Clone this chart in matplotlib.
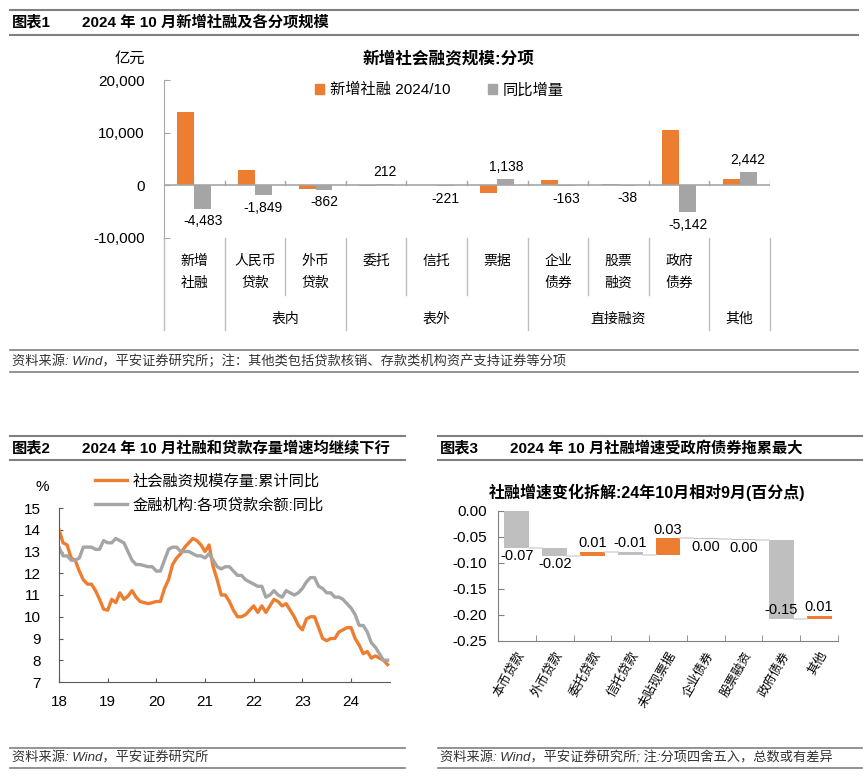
import matplotlib
matplotlib.use("Agg")
import matplotlib.pyplot as plt
from matplotlib.patches import Patch
from matplotlib.lines import Line2D
import numpy as np

plt.rcParams['font.family'] = ['Liberation Sans', 'Noto Sans CJK SC']
plt.rcParams['axes.unicode_minus'] = False

W, H = 866, 779
ORANGE = '#ED7D31'
GRAY = '#A5A5A5'
LGRAY = '#BFBFBF'
RULE = '#808080'

# ---- chart 1 data ----
# last category (其他) is only named at group level in the original
c1_cats = ['新增\n社融', '人民币\n贷款', '外币\n贷款', '委托', '信托', '票据',
           '企业\n债券', '股票\n融资', '政府\n债券', '']
c1_new = [14000, 2967, -700, -190, 126, -1380, 1025, 250, 10500, 1270]
c1_yoy = [-4483, -1849, -862, 212, -221, 1138, -163, -38, -5142, 2442]
c1_groups = [('表内', 1, 2), ('表外', 3, 5), ('直接融资', 6, 8), ('其他', 9, 9)]
c1_yticks = [-10000, 0, 10000, 20000]

# ---- chart 2 data (monthly, Jan 2018 - Oct 2024) ----
tsf_growth = [14.0, 13.4, 13.3, 12.7, 12.6, 12.1, 11.7, 11.5, 11.5, 11.2, 10.8, 10.35,
              10.3, 10.8, 10.65, 11.1, 10.8, 10.95, 11.2, 10.9, 10.7, 10.65, 10.6, 10.65,
              10.7, 10.7, 11.3, 11.7, 12.4, 12.7, 12.9, 13.2, 13.4, 13.6, 13.5, 13.3,
              13.0, 13.3, 12.3, 11.7, 11.0, 11.0, 10.7, 10.3, 10.0, 10.0, 10.1, 10.3,
              10.5, 10.2, 10.5, 10.2, 10.5, 10.8, 10.7, 10.5, 10.6, 10.3, 10.0, 9.6,
              9.4, 9.9, 10.0, 10.0, 9.5, 9.0, 8.9, 9.0, 9.0, 9.3, 9.4, 9.5,
              9.5, 9.0, 8.7, 8.3, 8.4, 8.1, 8.2, 8.1, 8.0, 7.8]
loan_growth = [13.2, 12.8, 12.8, 12.6, 12.6, 12.7, 13.2, 13.2, 13.2, 13.1, 13.1, 13.5,
               13.4, 13.4, 13.6, 13.5, 13.4, 13.0, 12.6, 12.4, 12.4, 12.35, 12.3, 12.3,
               12.1, 12.1, 12.6, 13.1, 13.2, 13.2, 13.0, 13.0, 13.0, 12.9, 12.8, 12.8,
               12.7, 12.9, 12.6, 12.3, 12.2, 12.3, 12.3, 12.1, 11.9, 11.9, 11.7, 11.6,
               11.5, 11.4, 11.4, 10.9, 11.0, 11.2, 11.0, 10.9, 11.2, 11.1, 11.0, 11.1,
               11.3, 11.6, 11.8, 11.8, 11.4, 11.3, 11.1, 11.1, 10.9, 10.9, 10.8, 10.6,
               10.4, 10.1, 9.6, 9.6, 9.3, 8.8, 8.6, 8.3, 8.0, 8.0]
year_labels = ['18', '19', '20', '21', '22', '23', '24']
c2_yticks = [7, 8, 9, 10, 11, 12, 13, 14, 15]

# ---- chart 3 data ----
c3_cats = ['本币贷款', '外币贷款', '委托贷款', '信托贷款', '未贴现票据',
           '企业债券', '股票融资', '政府债券', '其他']
c3_vals = [-0.071, -0.015, 0.008, -0.006, 0.032, -0.002, -0.001, -0.152, 0.006]
c3_labels = ['-0.07', '-0.02', '0.01', '-0.01', '0.03', '0.00', '0.00', '-0.15', '0.01']
c3_yticks = [0.0, -0.05, -0.10, -0.15, -0.20, -0.25]


def fx(x):
    return x / W


def fy(y):
    return 1 - y / H


fig = plt.figure(figsize=(W / 100, H / 100), dpi=100)


def rule(x0, x1, y, lw=1.5):
    fig.add_artist(Line2D([fx(x0), fx(x1)], [fy(y), fy(y)], color=RULE, lw=lw))


def header(x0, x1, ytop, ybot, tag, title, tx):
    rule(x0, x1, ytop)
    rule(x0, x1, ybot)
    yc = fy((ytop + ybot) / 2)
    fig.text(fx(x0 + 2), yc, tag, fontsize=11, fontweight='bold', va='center')
    fig.text(fx(tx), yc, title, fontsize=11, fontweight='bold', va='center')


def footer(x0, x1, ytop, ybot, txt):
    rule(x0, x1, ytop, lw=1.2)
    rule(x0, x1, ybot, lw=1.2)
    fig.text(fx(x0 + 2), fy((ytop + ybot) / 2), txt, fontsize=9.5, style='italic',
             color='#333333', va='center')


# =================== chart 1 ===================
header(10, 858, 10, 35, '图表1', '2024 年 10 月新增社融及各分项规模', 82)
footer(10, 858, 350, 372, '资料来源: Wind，平安证券研究所；注：其他类包括贷款核销、存款类机构资产支持证券等分项')

ax1 = fig.add_axes([fx(164), fy(238), 606 / W, 158 / H])
x = np.arange(len(c1_cats))
bw = 0.28
ax1.bar(x - bw / 2, c1_new, bw, color=ORANGE, label='新增社融 2024/10')
ax1.bar(x + bw / 2, c1_yoy, bw, color=GRAY, label='同比增量')
ax1.set_xlim(-0.5, len(c1_cats) - 0.5)
ax1.set_ylim(-10000, 20000)
ax1.axhline(0, color='#A6A6A6', lw=1.2, zorder=3)
for b in np.arange(0.5, len(c1_cats), 1.0):
    ax1.plot([b, b], [0, 850], color='#A6A6A6', lw=1, zorder=3)
for xi, v in zip(x, c1_yoy):
    ax1.annotate(f'{v:,}', (xi + bw / 2, v), xytext=(0, 4 if v > 0 else -4),
                 textcoords='offset points', ha='center',
                 va='bottom' if v > 0 else 'top', fontsize=10)
for s in ['top', 'right', 'bottom']:
    ax1.spines[s].set_visible(False)
ax1.spines['left'].set_color('#A6A6A6')
ax1.set_yticks(c1_yticks)
ax1.set_yticklabels([f'{t:,}' for t in c1_yticks], fontsize=11)
ax1.tick_params(axis='y', direction='in', length=4, color='#A6A6A6', pad=14)
ax1.set_xticks([])

tr = ax1.get_xaxis_transform()
group_edges = [-0.5, 0.5, 2.5, 5.5, 8.5, 9.5]
inner_edges = [1.5, 3.5, 4.5, 6.5, 7.5]
for e in group_edges:
    ax1.plot([e, e], [0, -92 / 158], transform=tr, color=LGRAY, lw=1, clip_on=False)
for e in inner_edges:
    ax1.plot([e, e], [0, -57 / 158], transform=tr, color=LGRAY, lw=1, clip_on=False)
for xi, lab in zip(x, c1_cats):
    for k, line in enumerate(lab.split('\n')):
        ax1.text(xi, -(261 + 22 * k - 238) / 158, line, transform=tr,
                 ha='center', va='center', fontsize=10)
for name, a, b in c1_groups:
    ax1.text((a + b) / 2, -(319 - 238) / 158, name, transform=tr,
             ha='center', va='center', fontsize=10)

fig.text(fx(130), fy(59), '亿元', fontsize=11, ha='center', va='center')
fig.text(fx(449), fy(59), '新增社会融资规模:分项', fontsize=12, fontweight='bold',
         ha='center', va='center')
fig.legend(handles=[Patch(color=ORANGE, label='新增社融 2024/10'),
                    Patch(color=GRAY, label='同比增量')],
           loc='center left', bbox_to_anchor=(fx(315), fy(90)), ncol=2,
           frameon=False, fontsize=11, handlelength=0.6, handleheight=0.6,
           handletextpad=0.35, columnspacing=2.5, borderpad=0, borderaxespad=0)

# =================== chart 2 ===================
header(10, 405, 436, 460, '图表2', '2024 年 10 月社融和贷款存量增速均继续下行', 82)
footer(10, 405, 748, 768, '资料来源: Wind，平安证券研究所')

ax2 = fig.add_axes([fx(59), fy(682), 331 / W, 174 / H])
m = np.arange(len(tsf_growth))
l1, = ax2.plot(m, tsf_growth, color=ORANGE, lw=2.4, label='社会融资规模存量:累计同比')
l2, = ax2.plot(m, loan_growth, color=GRAY, lw=2.4, label='金融机构:各项贷款余额:同比')
ax2.set_xlim(0, 81.6)
ax2.set_ylim(7, 15)
ax2.set_xticks(np.arange(0, 12 * len(year_labels), 12))
ax2.set_xticklabels(year_labels, fontsize=11)
ax2.set_yticks(c2_yticks)
ax2.set_yticklabels([str(t) for t in c2_yticks], fontsize=11)
ax2.tick_params(axis='y', direction='in', length=3, pad=13, color='#595959')
ax2.tick_params(axis='x', direction='in', length=3, pad=9, color='#595959')
for s in ['top', 'right']:
    ax2.spines[s].set_visible(False)
for s in ['left', 'bottom']:
    ax2.spines[s].set_color('#595959')
fig.text(fx(42), fy(487), '%', fontsize=11, ha='center', va='center')
fig.legend(handles=[l1, l2], loc='upper left', bbox_to_anchor=(fx(95), fy(474)),
           frameon=False, fontsize=11, handlelength=2.1, handletextpad=0.35,
           labelspacing=0.6, borderpad=0, borderaxespad=0)

# =================== chart 3 ===================
header(438, 862, 436, 460, '图表3', '2024 年 10 月社融增速受政府债券拖累最大', 510)
footer(438, 862, 748, 768, '资料来源: Wind，平安证券研究所; 注:分项四舍五入，总数或有差异')

ax3 = fig.add_axes([fx(498), fy(641), 340 / W, 130 / H])
vals = np.array(c3_vals)
ends = np.cumsum(vals)
starts = ends - vals
xi3 = np.arange(len(vals))
bw3 = 0.66
cols = [ORANGE if v > 0 else LGRAY for v in vals]
ax3.bar(xi3, vals, bw3, bottom=starts, color=cols, zorder=2)
for i in range(len(vals) - 1):
    ax3.plot([i + bw3 / 2, i + 1 - bw3 / 2], [ends[i], ends[i]], color='#D9D9D9', lw=1.2)
place = ['below', 'below', 'above', 'above', 'above', 'below', 'below', 'inside', 'above']
for i, (lab, p) in enumerate(zip(c3_labels, place)):
    top = max(starts[i], ends[i])
    bot = min(starts[i], ends[i])
    if p == 'above':
        ax3.annotate(lab, (i, top), xytext=(0, 1), textcoords='offset points',
                     ha='center', va='bottom', fontsize=10.5, zorder=3)
    elif p == 'below':
        ax3.annotate(lab, (i, bot), xytext=(0, -1), textcoords='offset points',
                     ha='center', va='top', fontsize=10.5, zorder=3)
    else:
        ax3.annotate(lab, (i, bot), xytext=(0, 1), textcoords='offset points',
                     ha='center', va='bottom', fontsize=10.5, zorder=3)
ax3.set_xlim(-0.5, len(vals) - 0.5)
ax3.set_ylim(-0.25, 0)
ax3.set_yticks(c3_yticks)
ax3.set_yticklabels([f'{t:.2f}' for t in c3_yticks], fontsize=11)
ax3.set_xticks(xi3)
ax3.set_xticklabels(c3_cats, rotation=60, ha='right', rotation_mode='anchor', fontsize=9)
ax3.set_xticks(np.arange(0.5, len(vals), 1.0), minor=True)
ax3.tick_params(axis='x', which='major', length=0, pad=6)
ax3.tick_params(axis='x', which='minor', direction='in', length=4, color='#808080')
ax3.tick_params(axis='y', direction='in', length=4, pad=8, color='#808080')
for s in ['top', 'right']:
    ax3.spines[s].set_visible(False)
for s in ['left', 'bottom']:
    ax3.spines[s].set_color('#808080')
fig.text(fx(647), fy(492), '社融增速变化拆解:24年10月相对9月(百分点)', fontsize=11.5,
         fontweight='bold', ha='center', va='center')

fig.savefig('out.png', dpi=100)
